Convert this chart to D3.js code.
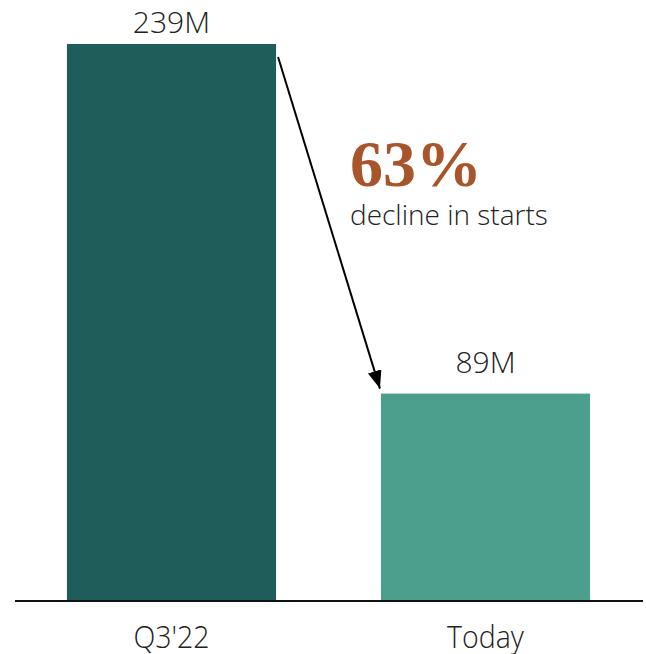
<!DOCTYPE html>
<html>
<head>
<meta charset="utf-8">
<script src="https://cdn.jsdelivr.net/npm/d3@7"></script>
<style>
  html, body { margin: 0; padding: 0; background: #fff; }
  svg { display: block; }
</style>
</head>
<body>
<div id="chart"></div>
<script>
// Starts, in millions
const categories = ["Q3'22", "Today"];
const values = [239, 89];
const valueLabels = ["239M", "89M"];
const barColors = ["#1e5d5a", "#4c9f8c"];
const calloutValue = "63%";
const calloutText = "decline in starts";

const width = 646, height = 654;
const baseY = 601;

const svg = d3.select('#chart')
  .append('svg')
  .attr('width', width)
  .attr('height', height);

const x = d3.scaleBand()
  .domain(categories)
  .range([14.5, 642.5])
  .paddingInner(0.334)
  .paddingOuter(0.167);

const y = d3.scaleLinear()
  .domain([0, d3.max(values)])
  .range([baseY, 44]);

const data = categories.map((c, i) => ({ cat: c, value: values[i], label: valueLabels[i], color: barColors[i] }));

// bars
svg.selectAll('.bar')
  .data(data)
  .enter()
  .append('rect')
  .attr('class', 'bar')
  .attr('x', d => x(d.cat))
  .attr('y', d => y(d.value))
  .attr('width', x.bandwidth())
  .attr('height', d => baseY - y(d.value))
  .attr('fill', d => d.color);

// value labels
svg.selectAll('.val')
  .data(data)
  .enter()
  .append('text')
  .attr('class', 'val')
  .attr('x', d => x(d.cat) + x.bandwidth() / 2)
  .attr('y', d => Math.max(33, y(d.value) - 21))
  .attr('text-anchor', 'middle')
  .attr('font-family', 'Open Sans, sans-serif')
  .attr('font-weight', 300)
  .attr('font-size', 30)
  .attr('fill', '#222')
  .text(d => d.label);

// axis baseline + category labels (slightly narrow face)
const xAxis = d3.axisBottom(x).tickSize(0).tickPadding(25);
const gx = svg.append('g')
  .attr('transform', `translate(0, ${baseY})`)
  .call(xAxis);
gx.select('.domain').remove();
gx.append('line')
  .attr('x1', 15).attr('x2', 643)
  .attr('stroke', '#111')
  .attr('stroke-width', 2);
gx.selectAll('.tick text')
  .attr('font-family', 'Open Sans, sans-serif')
  .attr('font-weight', 300)
  .attr('font-size', 31)
  .attr('fill', '#222')
  .attr('transform', 'scale(0.92,1)');

// arrow
const defs = svg.append('defs');
defs.append('marker')
  .attr('id', 'arrowhead')
  .attr('viewBox', '0 0 10 10')
  .attr('refX', 10).attr('refY', 5)
  .attr('markerWidth', 18).attr('markerHeight', 14)
  .attr('markerUnits', 'userSpaceOnUse')
  .attr('orient', 'auto')
  .attr('preserveAspectRatio', 'none')
  .append('path')
  .attr('d', 'M0,0 L10,5 L0,10 Z')
  .attr('fill', '#000');

const x0 = x(categories[0]) + x.bandwidth() + 2;
const x1 = x(categories[1]) - 1;
svg.append('line')
  .attr('x1', x0).attr('y1', y(values[0]) + 13)
  .attr('x2', x1).attr('y2', y(values[1]) - 5)
  .attr('stroke', '#000')
  .attr('stroke-width', 2)
  .attr('marker-end', 'url(#arrowhead)');

// callout
svg.append('text')
  .attr('x', 350)
  .attr('y', 186)
  .attr('font-family', 'Liberation Serif, serif')
  .attr('font-weight', 'bold')
  .attr('font-size', 66)
  .attr('fill', '#a8552b')
  .text(calloutValue);

svg.append('text')
  .attr('x', 350)
  .attr('y', 225)
  .attr('font-family', 'Open Sans, sans-serif')
  .attr('font-weight', 300)
  .attr('font-size', 28)
  .attr('fill', '#222')
  .text(calloutText);
</script>
</body>
</html>
